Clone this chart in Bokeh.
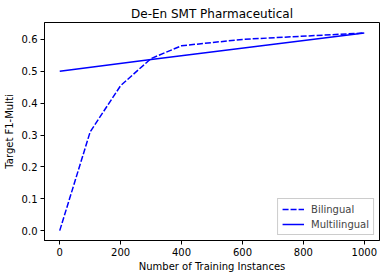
from bokeh.plotting import figure
from bokeh.embed import file_html
from bokeh.resources import INLINE
from bokeh.models import Range1d, FixedTicker, Legend, LegendItem, PrintfTickFormatter

x_bi = [0, 100, 200, 300, 400, 600, 1000]
y_bi = [0.0, 0.31, 0.455, 0.54, 0.58, 0.60, 0.62]
x_multi = [0, 300, 1000]
y_multi = [0.50, 0.537, 0.62]
x_ticks = [0, 200, 400, 600, 800, 1000]
y_ticks = [0.0, 0.1, 0.2, 0.3, 0.4, 0.5, 0.6]

FONT = "DejaVu Sans"
p = figure(frame_width=335, frame_height=218, output_backend="svg", toolbar_location=None,
           x_range=Range1d(-50, 1050), y_range=Range1d(-0.031, 0.653),
           title="De-En SMT Pharmaceutical",
           min_border_left=44, min_border_right=10, min_border_top=22, min_border_bottom=38)
p.title.align = "center"
p.title.text_font = FONT
p.title.text_font_size = "12px"
p.title.text_font_style = "normal"
p.title.text_color = "#000000"
p.title.offset = 0
p.title.standoff = 3

r1 = p.line(x_bi, y_bi, line_color="#0000ff", line_width=1.5, line_dash="6 2")
r2 = p.line(x_multi, y_multi, line_color="#0000ff", line_width=1.5)

p.grid.visible = False
p.outline_line_color = "#000000"
p.outline_line_width = 1
p.outline_line_alpha = 1

for ax in (p.xaxis[0], p.yaxis[0]):
    ax.axis_line_color = "#000000"
    ax.major_tick_line_color = "#000000"
    ax.minor_tick_line_color = None
    ax.major_tick_out = 4
    ax.major_tick_in = 0
    ax.major_label_text_font = FONT
    ax.major_label_text_font_size = "10px"
    ax.major_label_text_color = "#000000"
    ax.axis_label_text_font = FONT
    ax.axis_label_text_font_size = "10px"
    ax.axis_label_text_font_style = "normal"
    ax.axis_label_text_color = "#000000"
    ax.major_label_standoff = 3
    ax.axis_label_standoff = 4

p.xaxis[0].axis_label_standoff = 2
p.xaxis[0].ticker = FixedTicker(ticks=x_ticks)
p.yaxis[0].ticker = FixedTicker(ticks=y_ticks)
p.yaxis[0].formatter = PrintfTickFormatter(format="%.1f")
p.xaxis[0].axis_label = "Number of Training Instances"
p.yaxis[0].axis_label = "Target F1-Multi"

legend = Legend(items=[LegendItem(label="Bilingual", renderers=[r1]),
                       LegendItem(label="Multilingual", renderers=[r2])],
                location="bottom_right")
legend.label_text_font = FONT
legend.label_text_font_size = "10px"
legend.border_line_color = "#cccccc"
legend.border_line_alpha = 1
legend.background_fill_alpha = 0.8
legend.glyph_width = 22
legend.glyph_height = 12
legend.label_height = 12
legend.spacing = 3
legend.padding = 4
legend.margin = 5
legend.label_standoff = 7
p.add_layout(legend)

open("out.html", "w").write(file_html(p, INLINE))
